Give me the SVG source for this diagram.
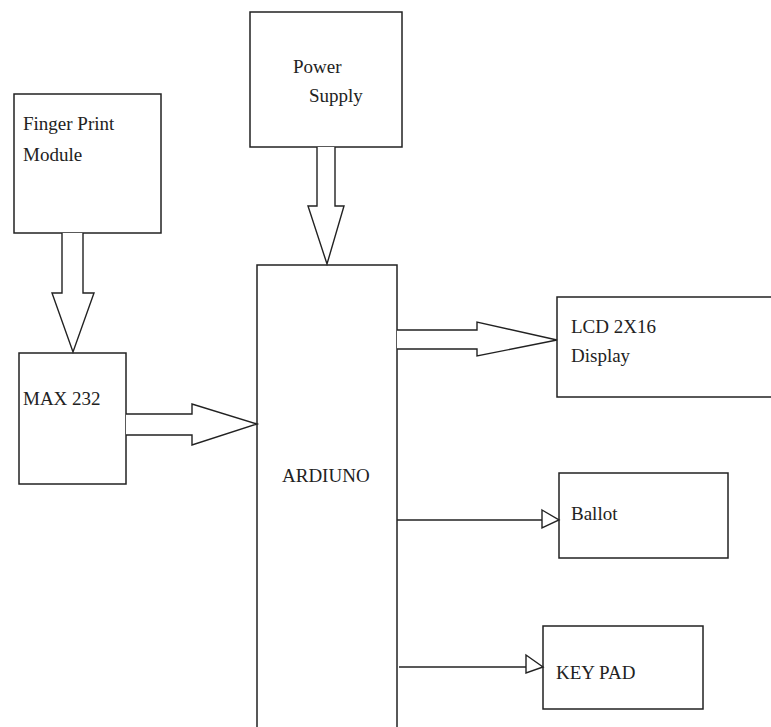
<svg xmlns="http://www.w3.org/2000/svg" width="771" height="727" viewBox="0 0 771 727">
<style>
.box{fill:#fff;stroke:#222;stroke-width:1.5}
.lbl{font-family:"Liberation Serif","Times New Roman",serif;font-size:19px;fill:#222}
.con{fill:#fff;stroke:#222;stroke-width:1.4;stroke-linejoin:miter}
.ln{fill:none;stroke:#222;stroke-width:1.5}
</style>
<rect width="771" height="727" fill="#fff"/>
<g id="fingerprint">
<rect class="box" x="14" y="94" width="147" height="139"/>
<text class="lbl" x="23" y="130">Finger Print</text>
<text class="lbl" x="23" y="161">Module</text>
</g>
<g id="power">
<rect class="box" x="250" y="12" width="152" height="135"/>
<text class="lbl" x="293" y="73">Power</text>
<text class="lbl" x="309" y="102">Supply</text>
</g>
<g id="max232">
<rect class="box" x="19" y="353" width="107" height="131"/>
<text class="lbl" x="23" y="405">MAX 232</text>
</g>
<g id="arduino">
<rect class="box" x="257" y="265" width="140" height="470"/>
<text class="lbl" x="282" y="482">ARDIUNO</text>
</g>
<g id="lcd">
<rect class="box" x="557" y="297" width="220" height="100"/>
<text class="lbl" x="571" y="333">LCD 2X16</text>
<text class="lbl" x="571" y="362">Display</text>
</g>
<g id="ballot">
<rect class="box" x="559" y="473" width="169" height="85"/>
<text class="lbl" x="571" y="520">Ballot</text>
</g>
<g id="keypad">
<rect class="box" x="543" y="626" width="160" height="83"/>
<text class="lbl" x="556" y="679">KEY PAD</text>
</g>
<g id="connectors">
<path class="con" d="M62,233 L62,293 L52,293 L73,352 L94,293 L83,293 L83,233"/>
<path class="con" d="M317,147 L317,206 L308,206 L327,264 L344,206 L335,206 L335,147"/>
<path class="con" d="M126,414 L192,414 L192,404 L257,424 L192,445 L192,435 L126,435"/>
<path class="con" d="M397,330 L477,330 L477,322 L557,340 L477,356 L477,349 L397,349"/>
<line class="ln" x1="397" y1="520" x2="542" y2="520"/>
<path class="con" d="M542,510 L559,520 L542,528 Z"/>
<line class="ln" x1="399" y1="667" x2="526" y2="667"/>
<path class="con" d="M526,655 L543,667 L526,673 Z"/>
</g>
</svg>
